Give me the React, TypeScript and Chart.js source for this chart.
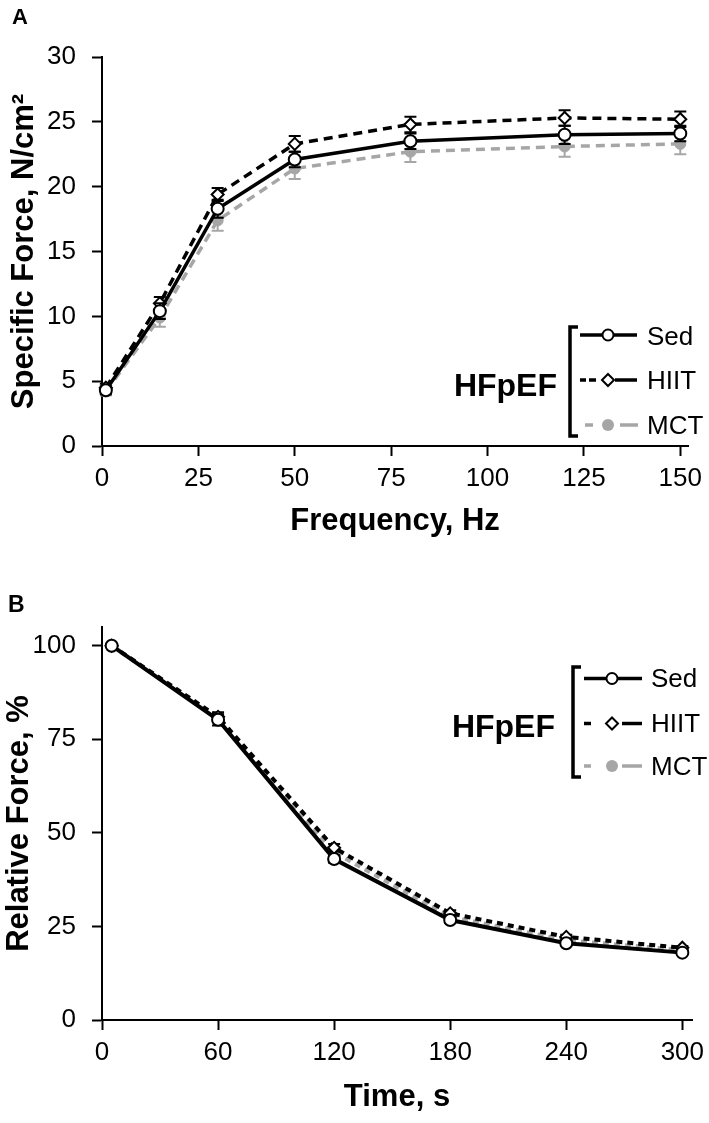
import React, { useEffect, useRef } from "react";
import { Chart, registerables } from "chart.js";

Chart.register(...registerables);

const FONT = "'Liberation Sans', Arial, Helvetica, sans-serif";
const BLACK = "#000000";
const GREY = "#a6a6a6";

// ---------- Series names ----------
const seriesNames = ["Sed", "HIIT", "MCT"];
const groupName = "HFpEF";

// ---------- Panel A: force-frequency ----------
const frequencyHz = [1, 15, 30, 50, 80, 120, 150];
const sedForceA = [4.3, 10.4, 18.3, 22.1, 23.5, 24.0, 24.1];
const hiitForceA = [4.5, 11.0, 19.4, 23.3, 24.8, 25.3, 25.2];
const mctForceA = [4.2, 9.9, 17.4, 21.4, 22.7, 23.1, 23.3];
const sedErrA = [0.3, 0.6, 0.7, 0.6, 0.6, 0.7, 0.6];
const hiitErrA = [0.3, 0.5, 0.5, 0.6, 0.6, 0.6, 0.6];
const mctErrA = [0.3, 0.7, 0.8, 0.8, 0.8, 0.8, 0.8];
const xTicksA = [0, 25, 50, 75, 100, 125, 150];
const yTicksA = [0, 5, 10, 15, 20, 25, 30];

// ---------- Panel B: fatigue ----------
const timeS = [5, 60, 120, 180, 240, 300];
const sedRelB = [100, 80.2, 43.0, 26.7, 20.5, 18.0];
const hiitRelB = [100, 81.0, 46.0, 28.5, 22.2, 19.3];
const mctRelB = [100, 80.6, 44.8, 27.6, 21.3, 18.7];
const sedErrB = [0, 1.5, 1.0, 0.8, 0.6, 0.5];
const hiitErrB = [0, 1.2, 1.0, 0.8, 0.6, 0.5];
const mctErrB = [0, 1.2, 1.0, 0.8, 0.6, 0.5];
const xTicksB = [0, 60, 120, 180, 240, 300];
const yTicksB = [0, 25, 50, 75, 100];

const pts = (xs: number[], ys: number[]) => xs.map((x, i) => ({ x, y: ys[i] }));

// ---------- error bars plugin (drawn just before each dataset) ----------
const errorBarPlugin = {
  id: "errorBars",
  beforeDatasetDraw(chart: any, args: any) {
    const ds = chart.data.datasets[args.index];
    const errs: number[] | undefined = ds.errors;
    if (!errs) return;
    const meta = chart.getDatasetMeta(args.index);
    const ys = chart.scales.y;
    const ctx = chart.ctx;
    ctx.save();
    ctx.setLineDash([]);
    ctx.strokeStyle = ds.errorColor;
    ctx.lineWidth = 2;
    meta.data.forEach((el: any, j: number) => {
      const e = errs[j];
      if (!e) return;
      const v = ds.data[j].y;
      const yt = ys.getPixelForValue(v + e);
      const yb = ys.getPixelForValue(v - e);
      const x = el.x;
      const cap = 6;
      ctx.beginPath();
      ctx.moveTo(x, yt);
      ctx.lineTo(x, yb);
      ctx.moveTo(x - cap, yt);
      ctx.lineTo(x + cap, yt);
      ctx.moveTo(x - cap, yb);
      ctx.lineTo(x + cap, yb);
      ctx.stroke();
    });
    ctx.restore();
  },
};

// ---------- custom legend / panel letter ----------
type LegendLayout = {
  letter: string;
  letterX: number;
  letterY: number;
  letterSize: number;
  bracketX: number;
  bracketTop: number;
  bracketBottom: number;
  rows: number[];
  textRows: number[];
  markerX: number;
  textX: number;
  segs: number[][][];
  groupRight: number;
  groupY: number;
};

function drawMarker(ctx: CanvasRenderingContext2D, kind: number, x: number, y: number) {
  ctx.setLineDash([]);
  if (kind === 0) {
    ctx.beginPath();
    ctx.arc(x, y, 5.5, 0, Math.PI * 2);
    ctx.fillStyle = "#fff";
    ctx.fill();
    ctx.lineWidth = 2;
    ctx.strokeStyle = BLACK;
    ctx.stroke();
  } else if (kind === 1) {
    const r = 6;
    ctx.beginPath();
    ctx.moveTo(x, y - r);
    ctx.lineTo(x + r, y);
    ctx.lineTo(x, y + r);
    ctx.lineTo(x - r, y);
    ctx.closePath();
    ctx.fillStyle = "#fff";
    ctx.fill();
    ctx.lineWidth = 2;
    ctx.strokeStyle = BLACK;
    ctx.stroke();
  } else {
    ctx.beginPath();
    ctx.arc(x, y, 6, 0, Math.PI * 2);
    ctx.fillStyle = GREY;
    ctx.fill();
  }
}

const makeLegendPlugin = (L: LegendLayout) => ({
  id: "customLegend",
  afterDraw(chart: any) {
    const ctx: CanvasRenderingContext2D = chart.ctx;
    ctx.save();
    // panel letter
    ctx.fillStyle = BLACK;
    ctx.font = `bold ${L.letterSize}px ${FONT}`;
    ctx.textAlign = "left";
    ctx.textBaseline = "alphabetic";
    ctx.fillText(L.letter, L.letterX, L.letterY);
    // bracket
    ctx.strokeStyle = BLACK;
    ctx.lineWidth = 3.5;
    ctx.setLineDash([]);
    ctx.beginPath();
    ctx.moveTo(L.bracketX + 8, L.bracketTop);
    ctx.lineTo(L.bracketX, L.bracketTop);
    ctx.lineTo(L.bracketX, L.bracketBottom);
    ctx.lineTo(L.bracketX + 8, L.bracketBottom);
    ctx.stroke();
    // rows
    seriesNames.forEach((name, i) => {
      const y = L.rows[i];
      ctx.strokeStyle = i === 2 ? GREY : BLACK;
      ctx.lineWidth = 3.5;
      ctx.lineCap = "butt";
      L.segs[i].forEach(([a, b]) => {
        ctx.beginPath();
        ctx.moveTo(a, y);
        ctx.lineTo(b, y);
        ctx.stroke();
      });
      drawMarker(ctx, i, L.markerX, y);
      ctx.fillStyle = BLACK;
      ctx.font = `26px ${FONT}`;
      ctx.textAlign = "left";
      ctx.textBaseline = "middle";
      ctx.fillText(name, L.textX, L.textRows[i]);
    });
    ctx.font = `bold 32px ${FONT}`;
    ctx.textAlign = "right";
    ctx.textBaseline = "middle";
    ctx.fillStyle = BLACK;
    ctx.fillText(groupName, L.groupRight, L.groupY);
    ctx.restore();
  },
});

// ---------- shared style builders ----------
const tickFont = { family: FONT, size: 26 };
const titleFont = { family: FONT, size: 31, weight: "bold" as const };
const gridStyle = {
  drawOnChartArea: false,
  drawTicks: true,
  tickLength: 10,
  tickColor: BLACK,
  tickWidth: 2,
};
const borderStyle = { display: true, color: BLACK, width: 2 };

function makeDatasets(
  xs: number[],
  sed: number[],
  hiit: number[],
  mct: number[],
  errs: number[][],
  dashH: number[],
  dashM: number[],
  lw: number
) {
  return [
    {
      label: seriesNames[0],
      data: pts(xs, sed),
      errors: errs[0],
      errorColor: BLACK,
      borderColor: BLACK,
      borderWidth: lw,
      pointStyle: "circle",
      pointRadius: 6,
      pointBackgroundColor: "#fff",
      pointBorderColor: BLACK,
      pointBorderWidth: 2,
      tension: 0,
      clip: false,
    },
    {
      label: seriesNames[1],
      data: pts(xs, hiit),
      errors: errs[1],
      errorColor: BLACK,
      borderColor: BLACK,
      borderWidth: lw,
      borderDash: dashH,
      pointStyle: "rectRot",
      pointRadius: 6,
      pointBackgroundColor: "#fff",
      pointBorderColor: BLACK,
      pointBorderWidth: 2,
      tension: 0,
      clip: false,
    },
    {
      label: seriesNames[2],
      data: pts(xs, mct),
      errors: errs[2],
      errorColor: GREY,
      borderColor: GREY,
      borderWidth: lw,
      borderDash: dashM,
      pointStyle: "circle",
      pointRadius: 5.5,
      pointBackgroundColor: GREY,
      pointBorderColor: GREY,
      pointBorderWidth: 1,
      tension: 0,
      clip: false,
    },
  ];
}

function makeScales(p: {
  xMax: number;
  yMax: number;
  xTicks: number[];
  yTicks: number[];
  xHeight: number;
  xTitle: string;
  yTitle: string;
  xTitlePadBottom: number;
  yTitlePadTop: number;
}) {
  return {
    x: {
      type: "linear",
      min: 0,
      max: p.xMax,
      afterBuildTicks: (s: any) => {
        s.ticks = p.xTicks.map((v) => ({ value: v }));
      },
      afterFit: (s: any) => {
        s.height = p.xHeight;
        s.paddingLeft = 0;
        s.paddingRight = 0;
      },
      ticks: {
        font: tickFont,
        color: BLACK,
        padding: 7,
        maxRotation: 0,
        autoSkip: false,
        callback: (v: any) => String(v),
      },
      grid: gridStyle,
      border: borderStyle,
      title: {
        display: true,
        text: p.xTitle,
        font: titleFont,
        color: BLACK,
        padding: { top: 0, bottom: p.xTitlePadBottom },
      },
    },
    y: {
      type: "linear",
      min: 0,
      max: p.yMax,
      afterBuildTicks: (s: any) => {
        s.ticks = p.yTicks.map((v) => ({ value: v }));
      },
      afterFit: (s: any) => {
        s.width = 102;
        s.paddingTop = 0;
        s.paddingBottom = 0;
      },
      ticks: {
        font: tickFont,
        color: BLACK,
        padding: 16,
        autoSkip: false,
        callback: (v: any) => String(v),
      },
      grid: gridStyle,
      border: borderStyle,
      title: {
        display: true,
        text: p.yTitle,
        font: titleFont,
        color: BLACK,
        padding: { top: p.yTitlePadTop, bottom: 0 },
      },
    },
  };
}

function configA(): any {
  return {
    type: "line",
    data: {
      datasets: makeDatasets(
        frequencyHz,
        sedForceA,
        hiitForceA,
        mctForceA,
        [sedErrA, hiitErrA, mctErrA],
        [9, 6],
        [9, 6],
        3.5
      ),
    },
    options: {
      responsive: false,
      animation: false,
      devicePixelRatio: 1,
      layout: { padding: { left: 0, top: 57, right: 21, bottom: 0 } },
      plugins: { legend: { display: false }, tooltip: { enabled: false } },
      scales: makeScales({
        xMax: 152,
        yMax: 30,
        xTicks: xTicksA,
        yTicks: yTicksA,
        xHeight: 94,
        xTitle: "Frequency, Hz",
        yTitle: "Specific Force, N/cm²",
        xTitlePadBottom: 0,
        yTitlePadTop: 6,
      }),
    },
    plugins: [
      errorBarPlugin,
      makeLegendPlugin({
        letter: "A",
        letterX: 12,
        letterY: 24,
        letterSize: 22,
        bracketX: 570,
        bracketTop: 327,
        bracketBottom: 436,
        rows: [335, 380, 425],
        textRows: [338, 382, 426.5],
        markerX: 608,
        textX: 647,
        segs: [
          [[580, 637]],
          [[580, 586], [589, 596], [615, 637]],
          [[585, 593], [620, 638]],
        ],
        groupRight: 557,
        groupY: 387,
      }),
    ],
  };
}

function configB(): any {
  return {
    type: "line",
    data: {
      datasets: makeDatasets(
        timeS,
        sedRelB,
        hiitRelB,
        mctRelB,
        [sedErrB, hiitErrB, mctErrB],
        [6, 5],
        [6, 5],
        4
      ),
    },
    options: {
      responsive: false,
      animation: false,
      devicePixelRatio: 1,
      layout: { padding: { left: 0, top: 87, right: 17, bottom: 0 } },
      plugins: { legend: { display: false }, tooltip: { enabled: false } },
      scales: makeScales({
        xMax: 305,
        yMax: 105,
        xTicks: xTicksB,
        yTicks: yTicksB,
        xHeight: 103,
        xTitle: "Time, s",
        yTitle: "Relative Force, %",
        xTitlePadBottom: 7,
        yTitlePadTop: 1,
      }),
    },
    plugins: [
      errorBarPlugin,
      makeLegendPlugin({
        letter: "B",
        letterX: 8,
        letterY: 72,
        letterSize: 23,
        bracketX: 573,
        bracketTop: 127,
        bracketBottom: 237,
        rows: [138.5, 183.5, 226],
        textRows: [140, 185, 228],
        markerX: 612,
        textX: 651,
        segs: [
          [[584, 642]],
          [[584, 591], [622, 642]],
          [[584, 591], [622, 642]],
        ],
        groupRight: 555,
        groupY: 188,
      }),
    ],
  };
}

function Panel({ make, top, height }: { make: () => any; top: number; height: number }) {
  const ref = useRef<HTMLCanvasElement>(null);
  useEffect(() => {
    const chart = new Chart(ref.current as HTMLCanvasElement, make());
    return () => chart.destroy();
  }, []);
  return (
    <canvas
      ref={ref}
      width={709}
      height={height}
      style={{ position: "absolute", left: 0, top, width: 709, height, display: "block" }}
    />
  );
}

export default function App() {
  return (
    <div
      style={{
        position: "absolute",
        left: 0,
        top: 0,
        width: 709,
        height: 1123,
        background: "#fff",
        overflow: "hidden",
      }}
    >
      <Panel make={configA} top={0} height={540} />
      <Panel make={configB} top={540} height={583} />
    </div>
  );
}
